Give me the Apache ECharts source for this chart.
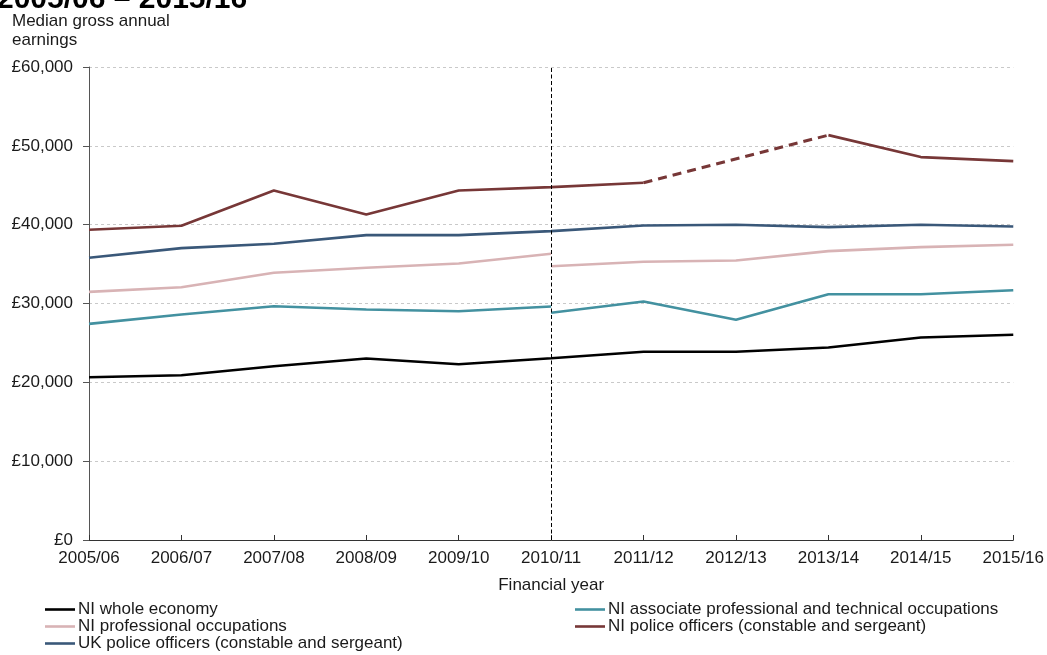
<!DOCTYPE html>
<html>
<head>
<meta charset="utf-8">
<title>Median gross annual earnings, 2005/06 – 2015/16</title>
<script src="https://cdn.jsdelivr.net/npm/echarts@6/dist/echarts.min.js"></script>
<style>
  html, body { margin: 0; padding: 0; background: #ffffff; }
  #chart { width: 1047px; height: 655px; }
</style>
</head>
<body>
<div id="chart"></div>
<script>
// Financial years on the horizontal axis
const categories = ['2005/06', '2006/07', '2007/08', '2008/09', '2009/10', '2010/11',
                    '2011/12', '2012/13', '2013/14', '2014/15', '2015/16'];

// Median gross annual earnings (£)
const niWholeEconomy = [20650, 20900, 22040, 23020, 22300, 23060, 23870, 23870, 24420, 25690, 26030];
// Occupation series are split at 2010/11 where the classification changed
const niAssocProfBefore = [27420, 28600, 29660, 29240, 29020, 29620, null, null, null, null, null];
const niAssocProfAfter  = [null, null, null, null, null, 28820, 30250, 27930, 31180, 31180, 31690];
const niProfBefore = [31480, 32070, 33900, 34530, 35080, 36310, null, null, null, null, null];
const niProfAfter  = [null, null, null, null, null, 34730, 35290, 35460, 36640, 37150, 37450];
// 2012/13 has no NI police estimate; the neighbouring years are joined by a dashed line
const niPolice = [39350, 39860, 44340, 41290, 44340, 44760, 45320, null, 51360, 48570, 48060];
const ukPolice = [35800, 37020, 37570, 38670, 38670, 39180, 39900, 39990, 39690, 39990, 39770];

const breakYear = '2010/11';

const yTicks = { min: 0, max: 60000, interval: 10000 };

const names = {
  whole: 'NI whole economy',
  assoc: 'NI associate professional and technical occupations',
  prof: 'NI professional occupations',
  niPol: 'NI police officers (constable and sergeant)',
  ukPol: 'UK police officers (constable and sergeant)'
};

const colors = {
  whole: '#000000',
  assoc: '#4391a0',
  prof: '#d8b3b5',
  niPol: '#773737',
  ukPol: '#3a5879'
};

// Endpoints either side of a missing NI police value
const gapBridge = niPolice.map(function (v, i) {
  const beforeGap = niPolice[i + 1] === null;
  const afterGap = niPolice[i - 1] === null;
  return (v !== null && (beforeGap || afterGap)) ? v : null;
});

const FONT = '"Liberation Sans", Arial, sans-serif';
const FS = 17;

function lineSeries(name, data, color, extra) {
  return Object.assign({
    name: name,
    type: 'line',
    data: data,
    symbol: 'none',
    showSymbol: false,
    connectNulls: false,
    smooth: false,
    lineStyle: { color: color, width: 2.6 },
    itemStyle: { color: color },
    emphasis: { disabled: true },
    z: 3
  }, extra || {});
}

function legendColumn(left, items) {
  return {
    left: left,
    top: 601,
    padding: 0,
    orient: 'vertical',
    icon: 'rect',
    itemWidth: 30,
    itemHeight: 2.6,
    itemGap: 0,
    data: items,
    textStyle: { fontSize: FS, lineHeight: 17, color: '#1a1a1a', fontFamily: FONT, padding: [0, 0, 0, -2] },
    selectedMode: false
  };
}

const chart = echarts.init(document.getElementById('chart'), null, { renderer: 'canvas' });

chart.setOption({
  animation: false,
  backgroundColor: '#ffffff',
  textStyle: { fontFamily: FONT },
  graphic: [
    {
      type: 'text',
      left: -3,
      top: -15,
      style: {
        text: '2005/06 – 2015/16',
        font: 'bold 30px ' + FONT,
        fill: '#000000'
      }
    },
    {
      type: 'text',
      left: 12,
      top: 12,
      style: {
        text: 'Median gross annual\nearnings',
        font: FS + 'px ' + FONT,
        lineHeight: 19,
        fill: '#1a1a1a'
      }
    }
  ],
  legend: [
    legendColumn(45, [names.whole, names.prof, names.ukPol]),
    legendColumn(575, [names.assoc, names.niPol])
  ],
  grid: { left: 89, right: 33, top: 67, bottom: 115, containLabel: false },
  xAxis: {
    type: 'category',
    data: categories,
    boundaryGap: false,
    name: 'Financial year',
    nameLocation: 'middle',
    nameGap: 37,
    nameTextStyle: { fontSize: FS, color: '#1a1a1a', fontFamily: FONT },
    axisLine: { show: true, lineStyle: { color: '#333333', width: 1 } },
    axisTick: { show: true, inside: true, length: 5, alignWithLabel: true, lineStyle: { color: '#333333' } },
    axisLabel: { fontSize: FS, color: '#1a1a1a', margin: 10, interval: 0, fontFamily: FONT },
    splitLine: { show: false }
  },
  yAxis: {
    type: 'value',
    min: yTicks.min,
    max: yTicks.max,
    interval: yTicks.interval,
    axisLine: { show: true, lineStyle: { color: '#555555', width: 1 } },
    axisTick: { show: true, length: 6, lineStyle: { color: '#555555' } },
    axisLabel: {
      fontSize: FS,
      color: '#1a1a1a',
      margin: 16,
      fontFamily: FONT,
      formatter: function (v) { return '£' + v.toLocaleString('en-GB'); }
    },
    splitLine: { show: true, lineStyle: { color: '#c9c9c9', type: [3, 3], width: 1 } }
  },
  series: [
    lineSeries(names.whole, niWholeEconomy, colors.whole, {
      markLine: {
        silent: true,
        symbol: 'none',
        label: { show: false },
        lineStyle: { color: '#000000', type: [4, 2.5], width: 1 },
        data: [{ xAxis: breakYear }]
      }
    }),
    lineSeries(names.assoc, niAssocProfBefore, colors.assoc),
    lineSeries(names.assoc, niAssocProfAfter, colors.assoc),
    lineSeries(names.prof, niProfBefore, colors.prof),
    lineSeries(names.prof, niProfAfter, colors.prof),
    lineSeries(names.niPol, niPolice, colors.niPol),
    lineSeries('NI police officers – no 2012/13 estimate', gapBridge, colors.niPol, {
      connectNulls: true,
      lineStyle: { color: colors.niPol, width: 3, type: [9, 6] }
    }),
    lineSeries(names.ukPol, ukPolice, colors.ukPol)
  ]
});
</script>
</body>
</html>
